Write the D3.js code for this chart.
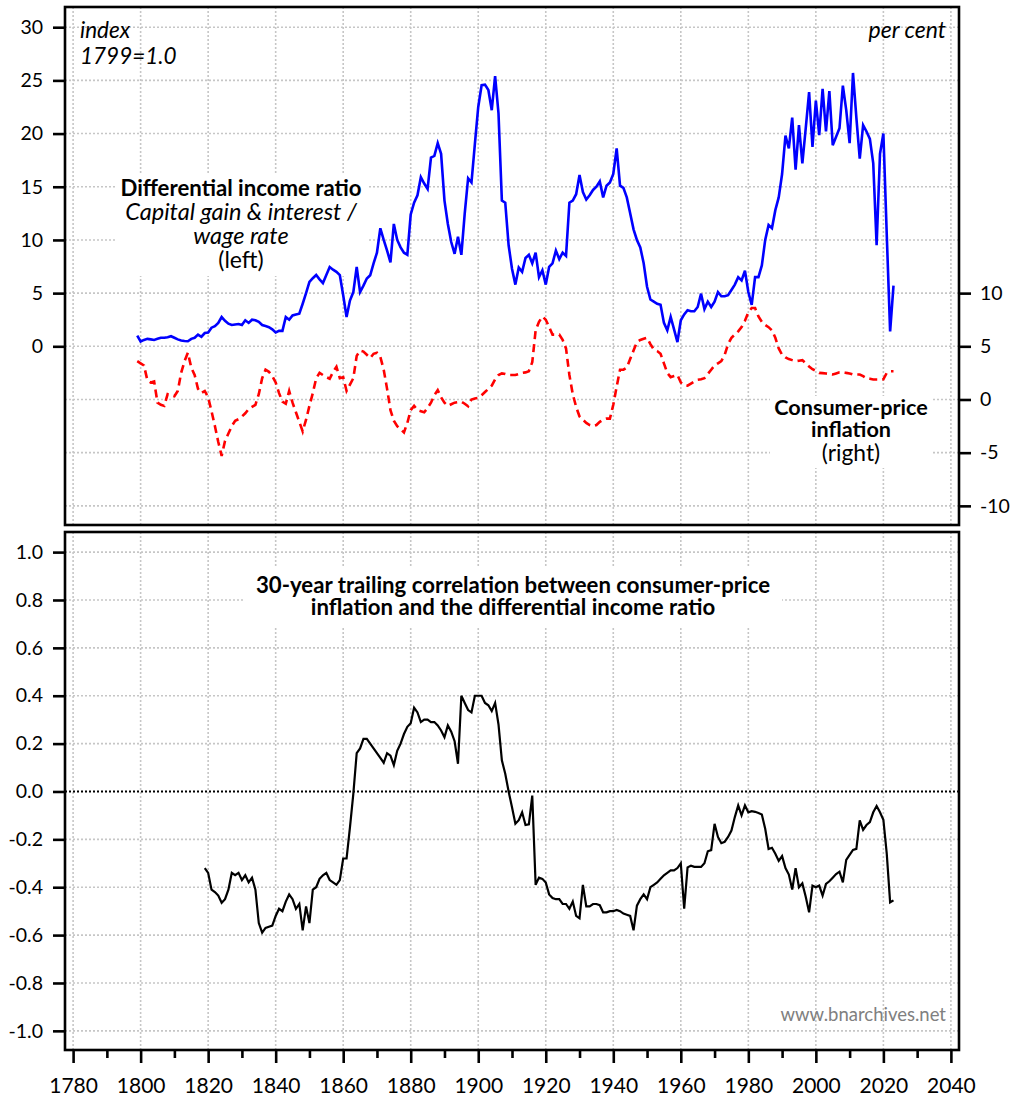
<!DOCTYPE html>
<html><head><meta charset="utf-8">
<script src="https://cdn.jsdelivr.net/npm/d3@7"></script>
<style>
body{margin:0;background:#fff;}
svg{display:block;font-family:Lato,"Open Sans",sans-serif;}
</style>
</head><body>
<svg id="chart" width="1010" height="1097"></svg>
<script>
// ---------------- DATA ----------------
const startYear = 1799;
// Differential income ratio (index, 1799 = 1.0), left axis
const ratioValues = [
 1.0,0.45,0.6,0.7,0.65,0.6,0.7,0.8,0.8,0.85,
 0.95,0.8,0.65,0.55,0.5,0.48,0.7,0.8,1.1,0.9,
 1.25,1.3,1.75,1.9,2.2,2.75,2.4,2.13,2.0,2.05,
 2.1,2.0,2.45,2.2,2.5,2.45,2.3,2.0,1.9,1.8,
 1.6,1.3,1.45,1.45,2.75,2.5,2.9,3.0,3.07,4.0,
 5.0,6.05,6.4,6.7,6.3,5.95,6.7,7.45,7.2,7.0,
 6.7,4.8,2.76,4.3,5.1,7.46,5.1,5.7,6.37,6.68,
 7.8,8.8,11.1,10.0,9.0,7.9,11.5,10.0,9.3,8.8,
 8.6,12.4,13.5,14.2,15.9,15.3,14.8,17.75,17.9,19.1,
 18.1,13.7,11.5,9.8,8.7,10.3,8.6,12.5,15.8,15.4,
 19.0,22.5,24.55,24.6,24.1,22.2,25.4,21.9,13.7,13.5,
 9.5,7.3,5.8,7.4,7.0,8.3,8.6,7.8,8.8,6.5,
 7.15,5.8,7.46,7.8,9.0,8.2,8.8,8.5,13.5,13.7,
 14.3,16.1,14.5,13.8,14.2,14.7,15.0,15.5,14.0,15.1,
 15.4,16.2,18.6,15.1,14.9,14.0,12.5,11.0,10.0,9.3,
 7.8,5.6,4.4,4.2,4.0,3.9,2.2,1.5,2.76,1.6,
 0.4,2.45,3.0,3.4,3.3,3.3,3.7,4.95,3.5,4.2,
 3.7,4.2,5.1,4.7,4.7,4.8,5.3,5.8,6.5,6.2,
 7.1,5.1,3.9,6.5,6.5,7.6,10.0,11.4,11.1,12.8,
 14.0,16.2,19.8,18.6,21.5,16.6,20.8,17.2,20.5,23.9,
 18.75,23.1,19.85,24.2,20.2,24.0,18.9,19.7,20.5,24.5,
 22.2,19.1,25.7,21.5,17.65,20.8,20.2,19.5,17.2,9.5,
 18.1,20.0,10.5,1.4,5.7
];
// Consumer-price inflation (per cent), right axis
const inflationValues = [
 3.6,3.4,3.2,1.8,1.6,1.7,-0.3,-0.5,-0.6,0.5,
 0.4,0.3,0.8,2.5,3.6,4.4,3.0,2.3,1.0,0.6,
 0.8,0.2,-1.1,-2.5,-4.0,-5.3,-3.9,-3.2,-2.5,-2.0,
 -1.85,-1.6,-1.3,-0.9,-0.7,-0.5,0.5,2.0,2.8,2.6,
 2.2,1.6,0.6,-0.2,-0.4,0.8,-0.3,-1.2,-2.1,-3.0,
 -1.9,-0.6,0.6,2.0,2.5,2.3,2.1,1.95,2.6,3.07,
 2.0,2.1,0.8,1.4,2.0,4.1,4.6,4.5,4.2,3.9,
 4.3,4.4,4.0,2.8,1.0,-1.0,-2.0,-2.5,-2.8,-3.1,
 -2.2,-1.0,-0.6,-1.0,-1.1,-1.2,-0.8,-0.3,0.4,0.88,
 0.2,-0.3,-0.6,-0.45,-0.3,-0.25,-0.2,-0.4,-0.63,0.0,
 0.1,0.15,0.4,0.7,1.0,1.3,1.9,2.3,2.45,2.4,
 2.3,2.3,2.3,2.4,2.5,2.55,2.66,3.5,6.5,7.3,
 7.8,7.5,6.8,6.1,6.1,6.1,5.6,4.8,2.3,0.5,
 -0.7,-1.6,-1.9,-2.2,-2.4,-2.5,-2.4,-2.1,-1.9,-1.8,
 -1.8,-0.5,1.2,2.8,2.8,3.0,3.8,4.6,5.4,5.6,
 5.7,5.8,5.2,4.7,4.55,4.3,3.4,2.5,2.1,2.2,
 2.3,1.6,1.35,1.3,1.5,1.7,1.85,1.9,2.0,2.4,
 2.8,3.2,3.4,3.6,4.2,5.2,5.8,6.1,6.4,6.8,
 7.4,8.2,8.6,8.6,7.8,7.3,7.0,6.8,6.5,5.8,
 4.8,4.2,3.95,3.8,3.7,3.6,3.65,3.7,3.4,3.1,
 2.85,2.7,2.5,2.48,2.45,2.4,2.35,2.45,2.55,2.57,
 2.5,2.45,2.35,2.35,2.35,2.2,2.0,1.95,1.88,1.88,
 1.88,1.9,2.5,2.65,2.65
];
// 30-year trailing correlation
const corrStartYear = 1819;
const corrValues = [
 -0.32,-0.34,-0.41,-0.42,-0.435,-0.465,-0.45,-0.41,-0.34,-0.35,
 -0.34,-0.37,-0.35,-0.38,-0.36,-0.41,-0.55,-0.59,-0.57,-0.565,
 -0.56,-0.52,-0.49,-0.50,-0.46,-0.43,-0.45,-0.49,-0.47,-0.58,
 -0.48,-0.55,-0.41,-0.40,-0.365,-0.35,-0.34,-0.37,-0.38,-0.39,
 -0.37,-0.28,-0.28,-0.15,-0.01,0.16,0.18,0.22,0.22,0.20,
 0.18,0.16,0.14,0.12,0.16,0.15,0.11,0.17,0.20,0.24,
 0.27,0.285,0.35,0.33,0.29,0.30,0.30,0.29,0.29,0.276,
 0.255,0.227,0.276,0.25,0.21,0.116,0.40,0.37,0.34,0.33,
 0.40,0.40,0.40,0.37,0.36,0.336,0.37,0.28,0.13,0.074,
 0.0,-0.066,-0.135,-0.12,-0.087,-0.14,-0.137,-0.017,-0.39,-0.36,
 -0.365,-0.38,-0.43,-0.445,-0.45,-0.45,-0.47,-0.47,-0.49,-0.46,
 -0.52,-0.53,-0.39,-0.48,-0.48,-0.47,-0.47,-0.475,-0.505,-0.505,
 -0.50,-0.50,-0.495,-0.50,-0.51,-0.515,-0.52,-0.58,-0.477,-0.45,
 -0.43,-0.45,-0.40,-0.39,-0.38,-0.365,-0.35,-0.34,-0.33,-0.33,
 -0.32,-0.30,-0.49,-0.317,-0.31,-0.315,-0.315,-0.315,-0.30,-0.25,
 -0.245,-0.135,-0.19,-0.216,-0.21,-0.19,-0.163,-0.107,-0.058,-0.10,
 -0.058,-0.087,-0.082,-0.085,-0.09,-0.096,-0.156,-0.24,-0.235,-0.26,
 -0.29,-0.27,-0.32,-0.347,-0.41,-0.32,-0.40,-0.384,-0.44,-0.505,
 -0.393,-0.40,-0.393,-0.435,-0.386,-0.375,-0.36,-0.345,-0.335,-0.38,
 -0.286,-0.265,-0.244,-0.24,-0.121,-0.16,-0.14,-0.128,-0.087,-0.061,
 -0.087,-0.118,-0.26,-0.463,-0.455
];
const xTickYears = [1780,1800,1820,1840,1860,1880,1900,1920,1940,1960,1980,2000,2020,2040];
const xMinorYears = [1790,1810,1830,1850,1870,1890,1910,1930,1950,1970,1990,2010,2030];
const leftTicks = [0,5,10,15,20,25,30];
const leftGrid = [-15,-10,-5,0,5,10,15,20,25,30];
const rightTicks = [-10,-5,0,5,10];
const corrTicks = [-1.0,-0.8,-0.6,-0.4,-0.2,0.0,0.2,0.4,0.6,0.8,1.0];

// ---------------- SCALES ----------------
const svg = d3.select("#chart");
const L = 65, R = 959;
const top1 = 7, bot1 = 525, top2 = 532, bot2 = 1050;
const x = d3.scaleLinear().domain([1777.6, 2042.4]).range([L, R]);
const yL = d3.scaleLinear().domain([-16.8, 31.9]).range([bot1, top1]);
const yR = d3.scaleLinear().domain([-11.8, 36.9]).range([bot1, top1]);
const yC = d3.scaleLinear().domain([-1.08, 1.084]).range([bot2, top2]);

const ratio = ratioValues.map((v,i)=>({year:startYear+i, v}));
const infl = inflationValues.map((v,i)=>({year:startYear+i, v}));
const corr = corrValues.map((v,i)=>({year:corrStartYear+i, v}));

const gridColor = "#c6c6c6";
// ---------------- GRID ----------------
function vgrid(y0,y1){
  svg.append("g").selectAll("line").data(xTickYears).join("line")
    .attr("x1",d=>x(d)).attr("x2",d=>x(d)).attr("y1",y0).attr("y2",y1)
    .attr("stroke",gridColor).attr("stroke-width",1.6).attr("stroke-dasharray","2,2");
}
vgrid(top1,bot1); vgrid(top2,bot2);
svg.append("g").selectAll("line").data(leftGrid).join("line")
  .attr("x1",L).attr("x2",R).attr("y1",d=>yL(d)).attr("y2",d=>yL(d))
  .attr("stroke",gridColor).attr("stroke-width",1.6).attr("stroke-dasharray","2,2");
svg.append("g").selectAll("line").data(corrTicks.filter(d=>d!==0)).join("line")
  .attr("x1",L).attr("x2",R).attr("y1",d=>yC(d)).attr("y2",d=>yC(d))
  .attr("stroke",gridColor).attr("stroke-width",1.6).attr("stroke-dasharray","2,2");

// white label boxes
svg.append("rect").attr("x",117).attr("y",174).attr("width",250).attr("height",102).attr("fill","#fff");
svg.append("rect").attr("x",770).attr("y",396).attr("width",162).attr("height",72).attr("fill","#fff");
svg.append("rect").attr("x",245).attr("y",566).attr("width",537).attr("height",62).attr("fill","#fff");

// zero line bottom
svg.append("line").attr("x1",L).attr("x2",R).attr("y1",yC(0)).attr("y2",yC(0))
  .attr("stroke","#000").attr("stroke-width",2).attr("stroke-dasharray","2,2");

// ---------------- LINES ----------------
svg.append("path").datum(infl)
  .attr("d", d3.line().x(d=>x(d.year)).y(d=>yR(d.v)))
  .attr("fill","none").attr("stroke","#ff0000").attr("stroke-width",2.6)
  .attr("stroke-dasharray","8,5");
svg.append("path").datum(ratio)
  .attr("d", d3.line().x(d=>x(d.year)).y(d=>yL(d.v)))
  .attr("fill","none").attr("stroke","#0000ff").attr("stroke-width",2.6)
  .attr("stroke-linejoin","miter");
svg.append("path").datum(corr)
  .attr("d", d3.line().x(d=>x(d.year)).y(d=>yC(d.v)))
  .attr("fill","none").attr("stroke","#000").attr("stroke-width",2.2);

// ---------------- FRAMES ----------------
svg.append("rect").attr("x",L).attr("y",top1).attr("width",R-L).attr("height",bot1-top1)
  .attr("fill","none").attr("stroke","#000").attr("stroke-width",2.6);
svg.append("rect").attr("x",L).attr("y",top2).attr("width",R-L).attr("height",bot2-top2)
  .attr("fill","none").attr("stroke","#000").attr("stroke-width",2.6);

// ---------------- AXES ----------------
function styleAxis(g, size){
  g.select(".domain").remove();
  g.selectAll(".tick line").attr("stroke","#000").attr("stroke-width",2.6);
  g.selectAll(".tick text").attr("fill","#000").style("font-size",size+"px").style("font-family","Lato, sans-serif");
}
svg.append("g").attr("transform",`translate(${L},0)`)
  .call(d3.axisLeft(yL).tickValues(leftTicks).tickSize(12).tickPadding(10).tickFormat(d=>String(d)))
  .call(g=>styleAxis(g,19.5));
svg.append("g").attr("transform",`translate(${R},0)`)
  .call(d3.axisRight(yR).tickValues(rightTicks).tickSize(12).tickPadding(9).tickFormat(d=>String(d)))
  .call(g=>styleAxis(g,19.5));
svg.append("g").attr("transform",`translate(${L},0)`)
  .call(d3.axisLeft(yC).tickValues(corrTicks).tickSize(12).tickPadding(10).tickFormat(d=>d.toFixed(1)))
  .call(g=>styleAxis(g,19.5));
svg.append("g").attr("transform",`translate(0,${bot2})`)
  .call(d3.axisBottom(x).tickValues(xTickYears).tickSize(13).tickPadding(15).tickFormat(d=>String(d)))
  .call(g=>styleAxis(g,21));
svg.append("g").attr("transform",`translate(0,${bot2})`)
  .call(d3.axisBottom(x).tickValues(xMinorYears).tickSize(8).tickFormat(()=>""))
  .call(g=>styleAxis(g,21));

// ---------------- TEXT ----------------
// multi-line block: one <text> with one <tspan> per line
function block(xx, lines, anchor){
  const t = svg.append("text").attr("text-anchor",anchor||"start");
  lines.forEach(l=>{
    t.append("tspan").attr("x",xx).attr("y",l.y).text(l.s)
      .style("font-size",(l.size||20)+"px")
      .style("font-style",l.italic?"italic":"normal")
      .style("font-weight",l.bold?"bold":"normal")
      .attr("fill",l.fill||"#000");
  });
}
block(80,[{s:"index",y:38,italic:true,size:22.5},{s:"1799=1.0",y:64,italic:true,size:22.5}]);
block(946,[{s:"per cent",y:38,italic:true,size:23}],"end");
block(241,[
  {s:"Differential income ratio",y:196,bold:true,size:22.2},
  {s:"Capital gain & interest /",y:220,italic:true,size:23.5},
  {s:"wage rate",y:244,italic:true,size:23.5},
  {s:"(left)",y:268,size:23}
],"middle");
block(851,[
  {s:"Consumer-price",y:415,bold:true,size:21.6},
  {s:"inflation",y:437,bold:true,size:21.6},
  {s:"(right)",y:461,size:22.8}
],"middle");
block(513,[
  {s:"30-year trailing correlation between consumer-price",y:593,bold:true,size:22.2},
  {s:"inflation and the differential income ratio",y:615,bold:true,size:22.2}
],"middle");
block(946,[{s:"www.bnarchives.net",y:1021,size:18.5,fill:"#808080"}],"end");
</script>
</body></html>
